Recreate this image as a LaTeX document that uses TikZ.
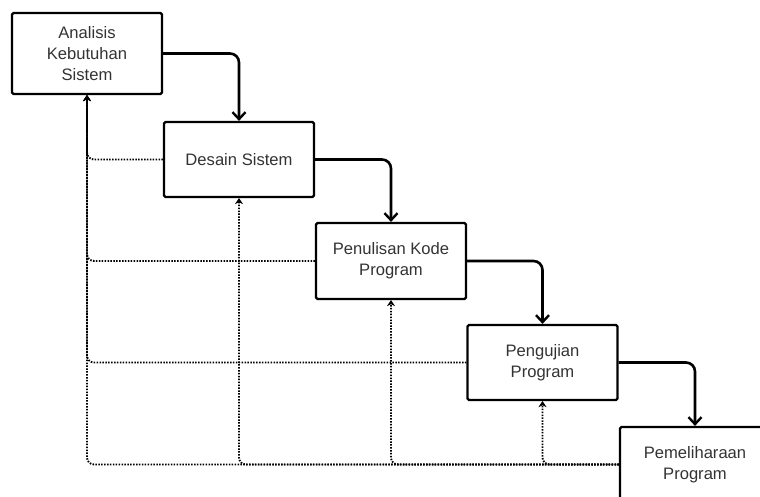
\documentclass[tikz,border=0pt]{standalone}
\usepackage{fontspec}
\setmainfont{Liberation Sans}
\usetikzlibrary{arrows.meta}
\begin{document}
\begin{tikzpicture}[x=1pt,y=-1pt,
  stepbox/.style={draw, line width=2.2pt, rounded corners=1.5pt, minimum width=150pt,
    minimum height=76pt, align=center, inner sep=0pt,
    font=\fontsize{16.6}{21}\selectfont, text=black!80},
  flow/.style={line width=2.6pt, rounded corners=9pt,
    -{Straight Barb[length=7pt,width=13pt,line width=2.4pt]}},
  back/.style={line width=1.9pt, dash pattern=on 1.5pt off 1.4pt, rounded corners=7pt,
    -{Stealth[length=6pt,width=8pt]}}]
\useasboundingbox (0,0) rectangle (760,497);
\clip (0,0) rectangle (760,497);

% the five phases
\node[stepbox, minimum height=81pt] (d1) at (87,53.5) {Analisis\\Kebutuhan\\Sistem};
\node[stepbox, minimum height=75pt] (d2) at (239,159.5) {Desain Sistem};
\node[stepbox] (d3) at (391,261) {Penulisan Kode\\Program};
\node[stepbox, minimum height=75pt] (d4) at (542.5,362.5) {Pengujian\\Program};
\node[stepbox, minimum height=75pt] (d5) at (695,464.5) {Pemeliharaan\\Program};

% forward flow
\draw[flow] (d1.east) -| (d2.north);
\draw[flow] (d2.east) -| (d3.north);
\draw[flow] (d3.east) -| (d4.north);
\draw[flow] (d4.east) -| (d5.north);

% feedback to the first phase
\draw[back] (d2.west) -| (d1.south);
\draw[back] (d3.west) -| (d1.south);
\draw[back] (d4.west) -| (d1.south);
\draw[back] (d5.west) -| (d1.south);

% feedback from maintenance to each phase
\draw[back] (d5.west) -| (d2.south);
\draw[back] (d5.west) -| (d3.south);
\draw[back] (d5.west) -| (d4.south);
\end{tikzpicture}
\end{document}
